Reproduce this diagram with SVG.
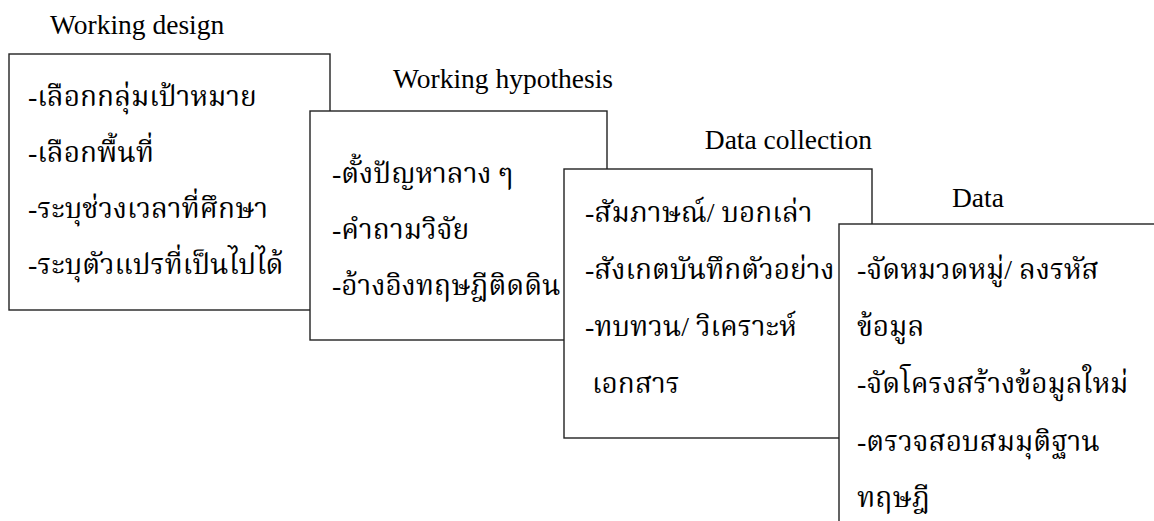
<svg xmlns="http://www.w3.org/2000/svg" width="1154" height="521" viewBox="0 0 1154 521">
<style>
.box{fill:#fff;stroke:#222;stroke-width:1.4}
.title{font-family:"Liberation Serif","Times New Roman",serif;font-size:27.5px;fill:#000}
.th{font-family:"Liberation Serif","Noto Serif Thai","Norasi","Noto Sans Thai Looped","Noto Sans Thai",serif;font-size:28px;fill:#000}
</style>
<rect width="1154" height="521" fill="#fff"/>
<g id="node-working-design">
<text class="title" x="50" y="34">Working design</text>
<rect class="box" x="9" y="54" width="321" height="256"/>
<text class="th" x="28" y="106">-เลือกกลุ่มเป้าหมาย</text>
<text class="th" x="28" y="162">-เลือกพื้นที่</text>
<text class="th" x="28" y="218">-ระบุช่วงเวลาที่ศึกษา</text>
<text class="th" x="28" y="274">-ระบุตัวแปรที่เป็นไปได้</text>
</g>
<g id="node-working-hypothesis">
<text class="title" x="393" y="88">Working hypothesis</text>
<rect class="box" x="310" y="111" width="297" height="229"/>
<text class="th" x="332" y="183">-ตั้งปัญหาลาง ๆ</text>
<text class="th" x="332" y="239">-คำถามวิจัย</text>
<text class="th" x="332" y="295">-อ้างอิงทฤษฎีติดดิน</text>
</g>
<g id="node-data-collection">
<text class="title" x="872" y="149" text-anchor="end">Data collection</text>
<rect class="box" x="564" y="169" width="308" height="269"/>
<text class="th" x="585" y="222">-สัมภาษณ์/ บอกเล่า</text>
<text class="th" x="585" y="279">-สังเกตบันทึกตัวอย่าง</text>
<text class="th" x="585" y="336">-ทบทวน/ วิเคราะห์</text>
<text class="th" x="592" y="393">เอกสาร</text>
</g>
<g id="node-data">
<text class="title" x="952" y="207">Data</text>
<rect class="box" x="839" y="224" width="330" height="310"/>
<text class="th" x="857" y="279">-จัดหมวดหมู่/ ลงรหัส</text>
<text class="th" x="857" y="336">ข้อมูล</text>
<text class="th" x="857" y="393">-จัดโครงสร้างข้อมูลใหม่</text>
<text class="th" x="857" y="451">-ตรวจสอบสมมุติฐาน</text>
<text class="th" x="857" y="507">ทฤษฎี</text>
</g>
<g id="connectors"></g>
</svg>
